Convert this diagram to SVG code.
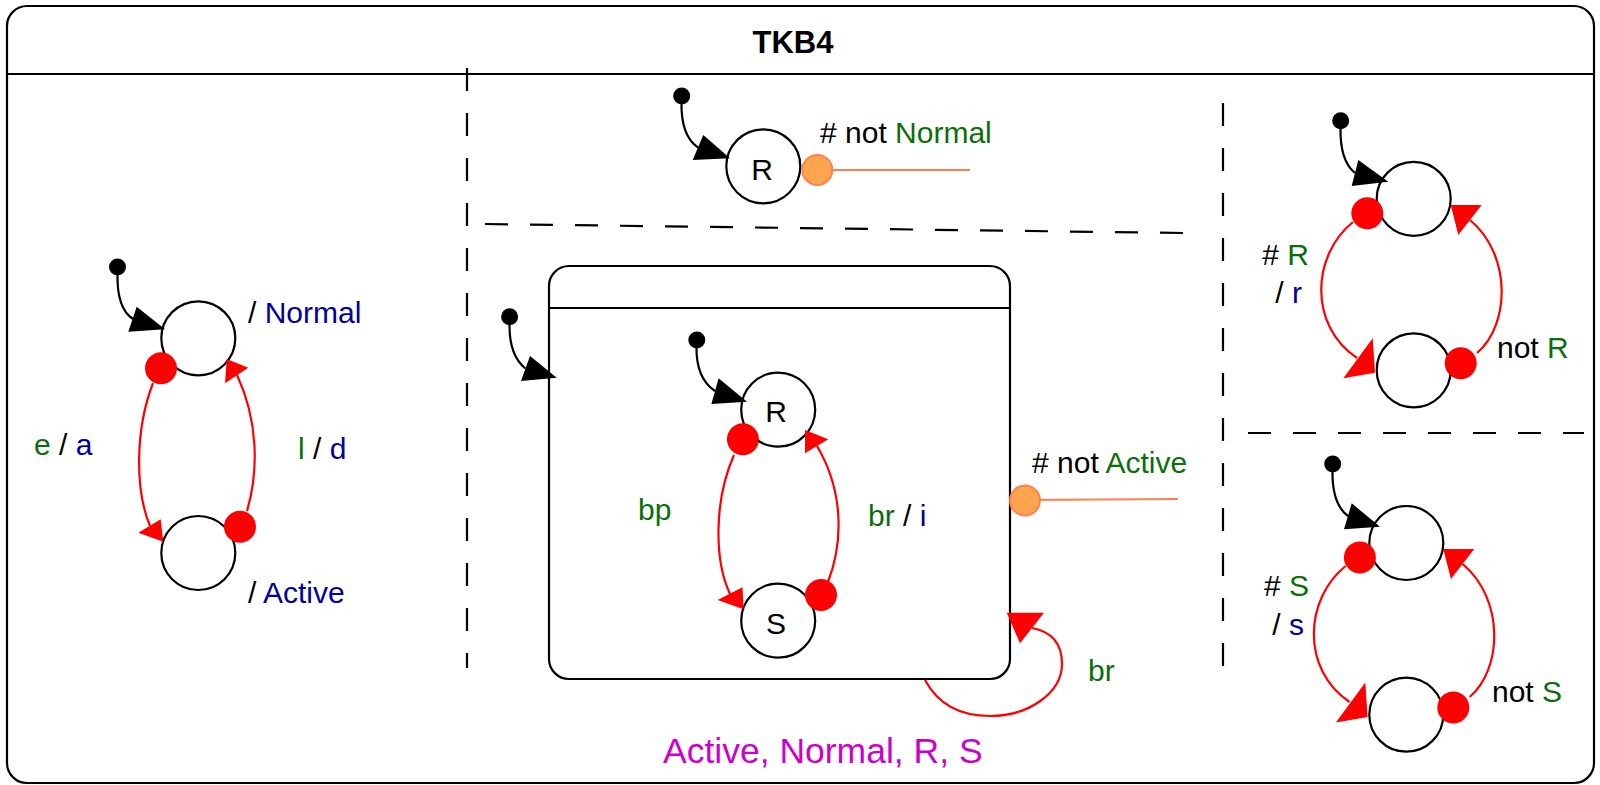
<svg xmlns="http://www.w3.org/2000/svg" width="1600" height="785" viewBox="0 0 1600 785">
<defs>
<style>
text{font-family:"Liberation Sans",Arial,sans-serif;font-size:30px;fill:#000}
.g{fill:#0A6E0A}
.b{fill:#00009C}
.m{fill:#CC00CC;font-size:35.5px}
.st{fill:#fff;stroke:#000;stroke-width:2.2}
.dash{stroke:#000;stroke-width:2.2;stroke-dasharray:23 22;fill:none}
.init{fill:none;stroke:#000;stroke-width:2.2}
.dot{fill:#000}
.ah{fill:#000}
.tr{fill:none;stroke:#FF0000;stroke-width:2.2}
.rd{fill:#FF0000}
.ra{fill:#FF0000}
.od{fill:#FFA54F;stroke:#FF7F50;stroke-width:2}
.ol{stroke:#FF7F50;stroke-width:2}
</style>
</defs>
<rect width="1600" height="785" fill="#fff"/>

<g id="TKB4">
<rect x="7" y="6" width="1587" height="777" rx="20" ry="20" fill="none" stroke="#000" stroke-width="2.2"/>
<line x1="7" y1="74" x2="1594" y2="74" stroke="#000" stroke-width="2.2"/>
<text x="793" y="53" text-anchor="middle" style="font-weight:bold;font-size:31px">TKB4</text>
</g>

<g id="separators">
<line class="dash" x1="467" y1="68" x2="467" y2="668"/>
<line class="dash" x1="485" y1="224" x2="1184" y2="233"/>
<line class="dash" x1="1223" y1="103" x2="1223" y2="670"/>
<line class="dash" x1="1248" y1="433" x2="1584" y2="433"/>
</g>

<!-- left region -->
<g id="init1"><circle class="dot" cx="117.5" cy="267" r="8.5"/></g>
<g id="Normal"><circle class="st" cx="198.3" cy="338.3" r="37"/></g>
<g id="Active"><circle class="st" cx="198.3" cy="553" r="37"/></g>

<!-- middle top -->
<g id="init2"><circle class="dot" cx="681.7" cy="96" r="8.5"/></g>
<g id="R_top"><circle class="st" cx="763.3" cy="166.3" r="37"/><text x="762" y="180" text-anchor="middle">R</text></g>

<!-- composite -->
<g id="init3"><circle class="dot" cx="509.6" cy="316.7" r="8.5"/></g>
<g id="Composite">
<rect x="549" y="266" width="461" height="413" rx="20" ry="20" fill="#fff" stroke="#000" stroke-width="2.2"/>
<line x1="549" y1="308" x2="1010" y2="308" stroke="#000" stroke-width="2.2"/>
</g>
<g id="init4"><circle class="dot" cx="696.8" cy="340" r="8.5"/></g>
<g id="R_in"><circle class="st" cx="778.2" cy="409.7" r="37"/><text x="776" y="422" text-anchor="middle">R</text></g>
<g id="S_in"><circle class="st" cx="778.2" cy="620.7" r="37"/><text x="776" y="633.5" text-anchor="middle">S</text></g>

<!-- right region -->
<g id="init5"><circle class="dot" cx="1340.7" cy="120.7" r="8.5"/></g>
<g id="RA"><circle class="st" cx="1413.7" cy="198.8" r="37"/></g>
<g id="RB"><circle class="st" cx="1413.7" cy="370.3" r="37"/></g>
<g id="init6"><circle class="dot" cx="1332.7" cy="464" r="8.5"/></g>
<g id="SA"><circle class="st" cx="1406.3" cy="543" r="37"/></g>
<g id="SB"><circle class="st" cx="1406.3" cy="714.7" r="37"/></g>

<g id="connectors">
<!-- initial transitions -->
<path class="init" d="M117.5,274 C117,298 122,312 133,319"/>
<polygon class="ah" points="128.3,331.7 136.7,306.7 165,329.3"/>
<path class="init" d="M681.5,102 C681,125 687,140 698,147.5"/>
<polygon class="ah" points="692.7,160 703.3,135 730,158.3"/>
<path class="init" d="M509.5,323 C509,345 515,360 525.5,368.5"/>
<polygon class="ah" points="521,381 530,356 556.8,377.7"/>
<path class="init" d="M696.5,346 C696,368 703,383 715,391"/>
<polygon class="ah" points="711.4,404 718.6,378.3 747,401.7"/>
<path class="init" d="M1340.5,127 C1340,150 1345,165 1355,173"/>
<polygon class="ah" points="1351.7,186 1358.3,160 1388.3,181.7"/>
<path class="init" d="M1332.5,470 C1332,494 1337,508 1348,516"/>
<polygon class="ah" points="1344,529.3 1351.7,503.3 1380,526.7"/>

<!-- left: Normal <-> Active -->
<path class="tr" d="M153,383 C135,430 135,490 150,526"/>
<polygon class="ra" points="138.3,532.7 160.7,519.3 163.3,541.7"/>
<circle class="rd" cx="161" cy="368.3" r="16"/>
<path class="tr" d="M247,511 C259,470 258,420 237,375"/>
<polygon class="ra" points="225,383.3 248.3,367.7 226.7,359"/>
<circle class="rd" cx="240" cy="526.7" r="16"/>

<!-- middle top: not Normal -->
<line class="ol" x1="817" y1="170" x2="970" y2="170"/>
<circle class="od" cx="817.3" cy="170" r="15"/>

<!-- composite: not Active -->
<line class="ol" x1="1025" y1="500" x2="1178" y2="499"/>
<circle class="od" cx="1025" cy="500.5" r="15"/>

<!-- composite self loop br -->
<path class="tr" d="M925,680 C940,708 965,716 990,716 C1030,716 1062,692 1062,664 C1062,645 1054,632 1032,628"/>
<polygon class="ra" points="1006.7,612.7 1044,612.7 1020,643.3"/>

<!-- inner R <-> S -->
<path class="tr" d="M734,455 C714,500 714,560 730,594"/>
<polygon class="ra" points="717.5,600 742.5,587.3 743.6,609.3"/>
<circle class="rd" cx="742.9" cy="439.3" r="16"/>
<path class="tr" d="M828,582 C844,540 843,490 817,446"/>
<polygon class="ra" points="805,453.3 828.2,439.3 805,430"/>
<circle class="rd" cx="821" cy="595" r="16"/>

<!-- right top -->
<path class="tr" d="M1353,222 C1312,255 1308,325 1357,358"/>
<polygon class="ra" points="1343.3,378.3 1372.7,338.3 1375,372.7"/>
<circle class="rd" cx="1367.3" cy="213.3" r="16"/>
<path class="tr" d="M1477,353 C1510,325 1512,255 1470,220"/>
<polygon class="ra" points="1458.3,235 1481.7,205 1450.7,205"/>
<circle class="rd" cx="1460.7" cy="363.3" r="16"/>

<!-- right bottom -->
<path class="tr" d="M1345.6,566 C1304.6,599 1300.6,669 1349.6,702"/>
<polygon class="ra" points="1335.9,722.5 1365.3,682.5 1367.6,716.9"/>
<circle class="rd" cx="1359.9" cy="557.5" r="16"/>
<path class="tr" d="M1469.6,697 C1502.6,669 1504.6,599 1462.6,564"/>
<polygon class="ra" points="1450.9,579 1474.3,549 1443.3,549"/>
<circle class="rd" cx="1453.3" cy="707.5" r="16"/>
</g>

<g id="labels">
<text x="248" y="323"><tspan>/ </tspan><tspan class="b">Normal</tspan></text>
<text x="248" y="603"><tspan>/ </tspan><tspan class="b">Active</tspan></text>
<text x="34" y="455"><tspan class="g">e</tspan><tspan> / </tspan><tspan class="b">a</tspan></text>
<text x="298" y="459"><tspan class="g">l</tspan><tspan> / </tspan><tspan class="b">d</tspan></text>
<text x="820" y="143"><tspan># not </tspan><tspan class="g">Normal</tspan></text>
<text x="1032" y="473"><tspan># not </tspan><tspan class="g">Active</tspan></text>
<text x="638" y="520" class="g">bp</text>
<text x="868" y="526"><tspan class="g">br</tspan><tspan> / </tspan><tspan class="b">i</tspan></text>
<text x="1088" y="681" class="g">br</text>
<text x="663" y="763" class="m">Active, Normal, R, S</text>
<text x="1309" y="265" text-anchor="end"><tspan># </tspan><tspan class="g">R</tspan></text>
<text x="1302" y="303" text-anchor="end"><tspan>/ </tspan><tspan class="b">r</tspan></text>
<text x="1497" y="358"><tspan>not </tspan><tspan class="g">R</tspan></text>
<text x="1309" y="596" text-anchor="end"><tspan># </tspan><tspan class="g">S</tspan></text>
<text x="1304" y="635" text-anchor="end"><tspan>/ </tspan><tspan class="b">s</tspan></text>
<text x="1492" y="702"><tspan>not </tspan><tspan class="g">S</tspan></text>
</g>
</svg>
